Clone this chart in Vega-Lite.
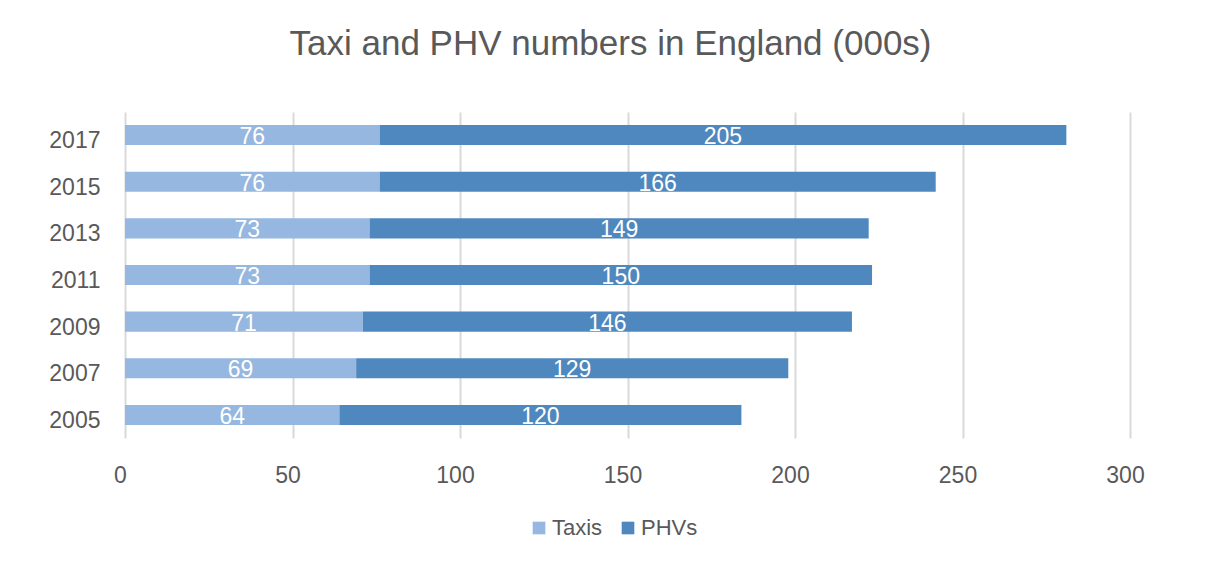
{
  "$schema": "https://vega.github.io/schema/vega-lite/v6.json",
  "width": 1005,
  "height": 326,
  "autosize": "none",
  "padding": {"left": 125, "top": 112, "right": 88, "bottom": 125},
  "background": "white",
  "title": {
    "text": "Taxi and PHV numbers in England (000s)",
    "font": "Liberation Sans",
    "fontSize": 35,
    "fontWeight": "normal",
    "color": "#595959",
    "anchor": "middle",
    "offset": 50,
    "dx": -17
  },
  "data": {
    "values": [
      {"year": "2017", "series": "Taxis", "value": 76},
      {"year": "2017", "series": "PHVs", "value": 205},
      {"year": "2015", "series": "Taxis", "value": 76},
      {"year": "2015", "series": "PHVs", "value": 166},
      {"year": "2013", "series": "Taxis", "value": 73},
      {"year": "2013", "series": "PHVs", "value": 149},
      {"year": "2011", "series": "Taxis", "value": 73},
      {"year": "2011", "series": "PHVs", "value": 150},
      {"year": "2009", "series": "Taxis", "value": 71},
      {"year": "2009", "series": "PHVs", "value": 146},
      {"year": "2007", "series": "Taxis", "value": 69},
      {"year": "2007", "series": "PHVs", "value": 129},
      {"year": "2005", "series": "Taxis", "value": 64},
      {"year": "2005", "series": "PHVs", "value": 120}
    ]
  },
  "transform": [
    {"stack": "value", "groupby": ["year"], "sort": [{"field": "series", "order": "descending"}], "as": ["v0", "v1"]},
    {"calculate": "(datum.v0 + datum.v1) / 2", "as": "mid"}
  ],
  "encoding": {
    "y": {
      "field": "year",
      "type": "ordinal",
      "sort": "descending",
      "title": null,
      "scale": {"paddingInner": 0.57, "paddingOuter": 0.28},
      "axis": {
        "domain": false,
        "ticks": false,
        "labelFont": "Liberation Sans",
        "labelFontSize": 23,
        "labelColor": "#595959",
        "labelPadding": 25,
        "labelOffset": 6
      }
    }
  },
  "layer": [
    {
      "mark": {"type": "bar"},
      "encoding": {
        "x": {
          "field": "v0",
          "type": "quantitative",
          "scale": {"domain": [0, 300], "nice": false},
          "title": null,
          "axis": {
            "values": [0, 50, 100, 150, 200, 250, 300],
            "domain": false,
            "ticks": false,
            "grid": true,
            "gridColor": "#d9d9d9",
            "gridWidth": 2,
            "labelFont": "Liberation Sans",
            "labelFontSize": 23,
            "labelColor": "#595959",
            "labelPadding": 26,
            "labelFlush": false,
            "labelOffset": -5
          }
        },
        "x2": {"field": "v1"},
        "color": {
          "field": "series",
          "type": "nominal",
          "scale": {"domain": ["Taxis", "PHVs"], "range": ["#95B7E0", "#4F88BE"]},
          "legend": {
            "title": null,
            "orient": "none",
            "direction": "horizontal",
            "legendX": 403,
            "legendY": 405,
            "symbolType": "square",
            "symbolSize": 160,
            "symbolStrokeWidth": 0,
            "labelFont": "Liberation Sans",
            "labelFontSize": 22,
            "labelColor": "#595959",
            "labelOffset": 2,
            "columnPadding": 14
          }
        }
      }
    },
    {
      "mark": {"type": "text", "color": "white", "font": "Liberation Sans", "fontSize": 23, "baseline": "middle", "dy": 2},
      "encoding": {
        "x": {"field": "mid", "type": "quantitative"},
        "text": {"field": "value", "type": "quantitative"}
      }
    }
  ],
  "config": {"view": {"stroke": null}}
}
